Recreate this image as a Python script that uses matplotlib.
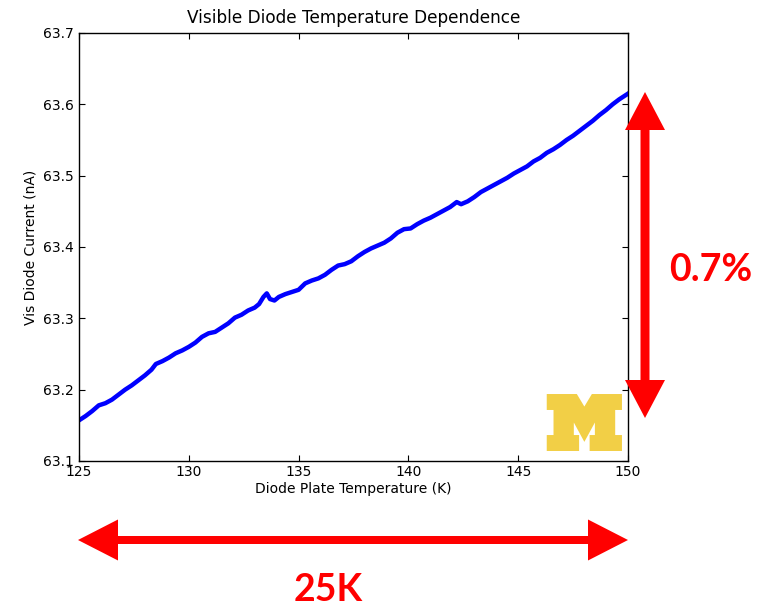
import matplotlib
matplotlib.use('Agg')
import matplotlib.pyplot as plt
import numpy as np
from matplotlib.patches import FancyArrow, Polygon

# diode plate temperature (K) and visible diode current (nA)
temp = [125.0, 125.3, 125.6, 125.9, 126.2, 126.5, 126.8, 127.1, 127.4, 127.7,
        128.0, 128.3, 128.5, 128.8, 129.1, 129.4, 129.7, 130.0, 130.3, 130.6,
        130.9, 131.2, 131.5, 131.8, 132.1, 132.4, 132.7, 133.0, 133.2, 133.4,
        133.55, 133.7, 133.9, 134.1, 134.4, 134.7, 135.0, 135.3, 135.6, 135.9,
        136.2, 136.5, 136.8, 137.1, 137.4, 137.7, 138.0, 138.3, 138.6, 138.9,
        139.2, 139.5, 139.8, 140.1, 140.4, 140.7, 141.0, 141.3, 141.6, 141.9,
        142.2, 142.4, 142.7, 143.0, 143.3, 143.6, 143.9, 144.2, 144.5, 144.8,
        145.1, 145.4, 145.7, 146.0, 146.3, 146.6, 146.9, 147.2, 147.5, 147.8,
        148.1, 148.4, 148.7, 149.0, 149.3, 149.6, 150.0]
current = [63.157, 63.163, 63.170, 63.178, 63.181, 63.186, 63.193, 63.200, 63.206, 63.213,
           63.220, 63.228, 63.236, 63.240, 63.245, 63.251, 63.255, 63.260, 63.266, 63.274,
           63.279, 63.281, 63.287, 63.293, 63.301, 63.305, 63.311, 63.315, 63.320, 63.330,
           63.335, 63.327, 63.325, 63.330, 63.334, 63.337, 63.340, 63.349, 63.353, 63.356,
           63.361, 63.368, 63.374, 63.376, 63.380, 63.387, 63.393, 63.398, 63.402, 63.406,
           63.412, 63.420, 63.425, 63.426, 63.432, 63.437, 63.441, 63.446, 63.451, 63.456,
           63.463, 63.460, 63.464, 63.470, 63.477, 63.482, 63.487, 63.492, 63.497, 63.503,
           63.508, 63.513, 63.520, 63.525, 63.532, 63.537, 63.543, 63.550, 63.556, 63.563,
           63.570, 63.577, 63.585, 63.592, 63.600, 63.607, 63.615]

xticks = [125, 130, 135, 140, 145, 150]
yticks = [63.1, 63.2, 63.3, 63.4, 63.5, 63.6, 63.7]

fig = plt.figure(figsize=(7.64, 6.06), dpi=100)
ax = fig.add_axes([79/764, 1-461/606, 549/764, 428/606])

ax.plot(temp, current, color='blue', lw=3.2)
ax.set_xlim(125, 150)
ax.set_ylim(63.1, 63.7)
ax.set_xticks(xticks)
ax.set_yticks(yticks)
ax.set_xticklabels([str(t) for t in xticks])
ax.set_yticklabels(['%.1f' % t for t in yticks])
ax.tick_params(direction='in', length=4, width=0.8, labelsize=10,
               top=True, right=True)
ax.tick_params(axis='x', pad=3)
ax.tick_params(axis='y', pad=4)
for sp in ax.spines.values():
    sp.set_linewidth(1.0)

ax.set_title('Visible Diode Temperature Dependence', fontsize=12.2, pad=7)
ax.set_xlabel('Diode Plate Temperature (K)', fontsize=10, labelpad=2)
ax.set_ylabel('Vis Diode Current (nA)', fontsize=10, labelpad=4)

# block M logo (axes fraction)
m_shape = np.array([
    (0, 0), (0.40, 0), (0.5, 0.22), (0.60, 0), (1, 0), (1, 0.28), (0.91, 0.28),
    (0.91, 0.72), (1, 0.72), (1, 1), (0.57, 1), (0.57, 0.72), (0.64, 0.72),
    (0.64, 0.50), (0.5, 0.84), (0.36, 0.50), (0.36, 0.72), (0.43, 0.72),
    (0.43, 1), (0, 1), (0, 0.72), (0.09, 0.72), (0.09, 0.28), (0, 0.28)])
x0, x1, y0, y1 = 0.852, 0.989, 0.0234, 0.1565
m_pts = np.column_stack([x0 + m_shape[:, 0]*(x1-x0), y1 - m_shape[:, 1]*(y1-y0)])
ax.add_patch(Polygon(m_pts, closed=True, transform=ax.transAxes,
                     facecolor='#F2CF46', edgecolor='none', zorder=1))

# red double arrows (figure inches)
def double_arrow(xa, ya, xb, yb, w, hw, hl):
    xm, ym = (xa+xb)/2, (ya+yb)/2
    for xe, ye in [(xa, ya), (xb, yb)]:
        fig.patches.append(FancyArrow(xm, ym, xe-xm, ye-ym, width=w, head_width=hw,
                                      head_length=hl, length_includes_head=True,
                                      color='red', lw=0, transform=fig.dpi_scale_trans))

double_arrow(6.45, 5.14, 6.45, 1.88, 0.09, 0.40, 0.38)
double_arrow(0.78, 0.66, 6.28, 0.66, 0.08, 0.41, 0.40)

fig.text(7.11/7.64, 1-2.70/6.06, '0.7%', color='red', fontsize=27,
         fontweight='bold', family='Lato', ha='center', va='center')
fig.text(3.28/7.64, 1-5.90/6.06, '25K', color='red', fontsize=27,
         fontweight='bold', family='Lato', ha='center', va='center')

fig.savefig('out.png', dpi=100)
